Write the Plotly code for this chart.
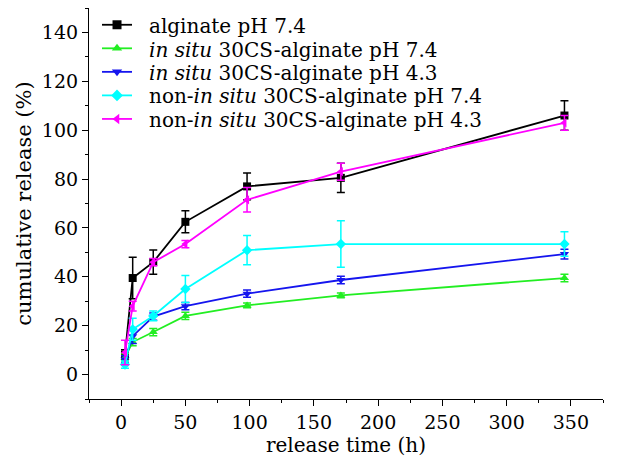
import plotly.graph_objects as go

time_h = [3, 9, 25, 50, 98, 171, 345]

alginate_74 = [8.2, 39.5, 46, 62.5, 77, 80.5, 106]
alginate_74_err = [2, 8.5, 5, 4.5, 5.5, 6, 6]

insitu_74 = [7, 13.3, 17.4, 24, 28.3, 32.4, 39.5]
insitu_74_err = [1.5, 1.5, 1.5, 1.5, 1, 1, 1.5]

insitu_43 = [6.2, 15.7, 23.7, 28, 33.1, 38.7, 49.3]
insitu_43_err = [1.5, 3, 1.5, 1.5, 1.5, 1.5, 2]

noninsitu_74 = [4.1, 18.5, 24, 35, 50.9, 53.4, 53.4]
noninsitu_74_err = [1.5, 4.5, 2, 5.5, 6, 9.5, 5]

noninsitu_43 = [9, 28, 46, 53.4, 71.5, 83, 103]
noninsitu_43_err = [5, 2, 1.5, 1.5, 5, 3.5, 3]

names = [
    "alginate pH 7.4",
    "<i>in situ</i> 30CS-alginate pH 7.4",
    "<i>in situ</i> 30CS-alginate pH 4.3",
    "non-<i>in situ</i> 30CS-alginate pH 7.4",
    "non-<i>in situ</i> 30CS-alginate pH 4.3",
]
series = [alginate_74, insitu_74, insitu_43, noninsitu_74, noninsitu_43]
errors = [alginate_74_err, insitu_74_err, insitu_43_err, noninsitu_74_err, noninsitu_43_err]
colors = ["#000000", "#22ee22", "#1515ee", "#00ffff", "#ff00ff"]
symbols = ["square", "triangle-up", "triangle-down", "diamond", "triangle-left"]

font = "DejaVu Serif"

fig = go.Figure()
for name, ys, es, c, s in zip(names, series, errors, colors, symbols):
    fig.add_trace(go.Scatter(
        x=time_h, y=ys, name=name, mode="lines+markers", showlegend=False,
        line=dict(color=c, width=1.8),
        marker=dict(symbol=s, size=8, color=c),
        error_y=dict(type="data", array=es, visible=True, color=c, thickness=1.5, width=4),
    ))

# legend keys (symbol only); labels drawn as text annotations for tight row spacing
for c, s in zip(colors, symbols):
    fig.add_trace(go.Scatter(
        x=[None], y=[None], name=" ", mode="lines+markers", showlegend=True,
        line=dict(color=c, width=1.8), marker=dict(symbol=s, size=9, color=c),
        hoverinfo="skip",
    ))

row_y = [0.9540, 0.8934, 0.8338, 0.7742, 0.7143]
annotations = [
    dict(text=n, x=0.113, y=yy, xref="paper", yref="paper", xanchor="left", yanchor="middle",
         showarrow=False, font=dict(family=font, size=20, color="black"))
    for n, yy in zip(names, row_y)
]

fig.update_layout(
    width=624, height=466,
    margin=dict(l=81, r=29, t=0, b=75),
    paper_bgcolor="white", plot_bgcolor="white",
    font=dict(family=font, size=19, color="black"),
    showlegend=True,
    annotations=annotations,
    legend=dict(x=0.0156, y=1.0, xanchor="left", yanchor="top",
                bgcolor="rgba(0,0,0,0)", font=dict(family=font, size=15.8),
                itemwidth=30, borderwidth=0),
    xaxis=dict(
        range=[-25, 375], tickmode="array", tickvals=[0, 50, 100, 150, 200, 250, 300, 350],
        showline=True, linecolor="black", linewidth=1.2, ticks="outside", ticklen=6,
        tickcolor="black", showgrid=False, zeroline=False, automargin=False,
        tickfont=dict(family=font, size=19),
        minor=dict(ticks="outside", ticklen=3, dtick=25, tick0=0, tickcolor="black", showgrid=False),
        title=dict(text="release time (h)", standoff=4, font=dict(family=font, size=20)),
    ),
    yaxis=dict(
        range=[-10, 150], tickmode="array", tickvals=[0, 20, 40, 60, 80, 100, 120, 140],
        showline=True, linecolor="black", linewidth=1.2, ticks="outside", ticklen=6,
        tickcolor="black", showgrid=False, zeroline=False, automargin=False,
        tickfont=dict(family=font, size=19),
        minor=dict(ticks="outside", ticklen=3, dtick=10, tick0=0, tickcolor="black", showgrid=False),
        title=dict(text="cumulative release (%)", standoff=4, font=dict(family=font, size=21)),
    ),
)
fig.write_html("out.html")
